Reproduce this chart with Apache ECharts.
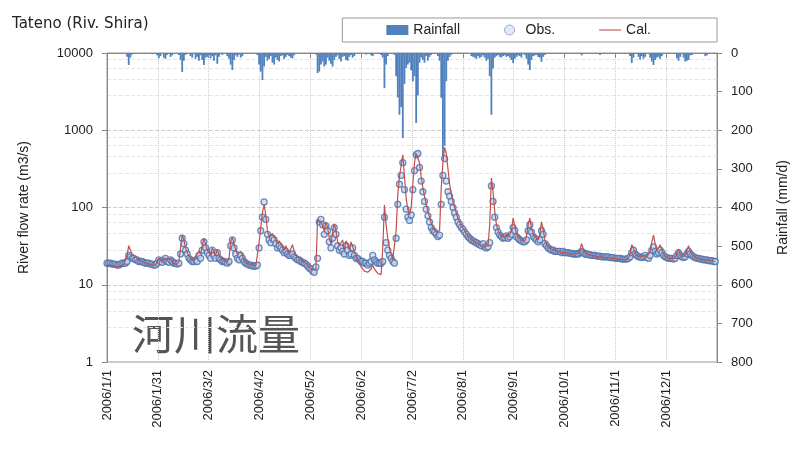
<!DOCTYPE html>
<html><head><meta charset="utf-8">
<script src="https://cdn.jsdelivr.net/npm/echarts@6/dist/echarts.min.js"></script>
<style>html,body{margin:0;padding:0;background:#fff}#c{width:794px;height:460px}</style>
</head><body><div id="c"></div>
<script>
// day index 0 = 2006/1/1
const xTickDays = 365 / 12;
const leftTicks = [1, 10, 100, 1000, 10000];
const rightTicks = [0, 100, 200, 300, 400, 500, 600, 700, 800];

const obs = [
19,19,19,18.5,18.5,18.5,18,18,18.5,19,
19,19,20,24,23,22,22,21,21,20,
20,20,19.5,19,19,19,18.5,18.5,18,18,
19,21,20,19.5,21,22,20,19.5,21,20,
19,19,18.5,19,25,40,34,28,25,22,
21,20,20,21,20,24,22,28,36,30,
26,24,22,28,24,22,26,22,21,20,
20,19.5,19,20,32,38,30,25,22,21,
24,22,20,19,18.5,18,18,17.5,17.5,17.5,
18,30,50,75,118,70,45,38,35,40,
38,34,30,32,30,28,26,27,25,24,
24,25,23,22,21,21,20,19.5,19,18.5,
17.5,16.5,16,15,14.5,17,22,65,70,60,
45,58,50,36,30,40,55,45,32,28,
30,27,25,32,28,24,25,30,24,22,
22,21,20,20,19,19,18,19,20,24,
21,20,19,19,19,20,75,35,28,24,
22,20,19,40,110,200,260,380,170,95,
75,68,80,170,300,480,500,330,220,160,
120,95,78,65,55,50,48,45,42,44,
110,260,430,220,160,140,120,100,85,75,
65,60,55,52,48,45,42,40,38,37,
36,35,34,33,32,34,31,30,31,35,
190,120,75,55,48,44,42,40,41,43,
40,42,45,55,50,42,40,38,37,36,
36,38,50,60,48,42,40,38,36,38,
50,45,34,32,30,29,28,28,27,27,
27,27,26,27,26,26,26,25.5,25.5,25,
25,25,25,26,27,26,25,25,24.5,24.5,
24,24,24,23.5,23.5,23.5,23,23,23,23,
23,22.5,22.5,22.5,22,22,22,22,21.5,21.5,
21.5,21.5,22,23,26,28,25,24,23,23,
22.5,23,24,22.5,22,24,28,31,27,25,
26,28,26,24,23,22.5,22,22,22,21.5,
22,24,26,24,23,22.5,23,25,27,25,
24,23,22.5,22,22,21.5,21.5,21,21,21,
20.5,20.5,20.5,20,20
];

const cal = [
18,18,18,17.5,17.5,17.5,17,17,17.5,18,
18,19,24,32,28,25,24,23,22,21,
20,20,19,19,18.5,18.5,18,18,18,18,
19,22,21,20,22,23,21,20,22,21,
18.5,19,18.5,20,30,44,38,30,26,24,
22,21,21,23,22,27,25,32,40,33,
28,26,24,30,27,24,29,24,22,21,
21,20,19.5,22,36,41,34,28,25,24,
27,24,21,19.5,19,18.5,18,18,17.5,17.5,
18,35,55,85,110,80,50,42,40,46,
42,38,34,37,34,30,28,32,28,26,
26,33,27,24,23,22,21,20,19.5,19,
18,17,16.5,15.5,15,16,70,72,65,58,
50,65,55,40,34,48,62,50,36,32,
35,38,28,37,33,28,36,35,27,24,
21,19,17,16,15,15,14.5,15,16,18,
16,15,14,13.5,13.5,30,108,60,40,30,
25,21,20,50,150,250,350,480,250,130,
95,80,100,200,380,500,520,380,250,180,
140,110,90,75,62,55,52,48,46,50,
180,380,600,500,320,200,150,120,100,85,
72,65,58,54,50,46,43,41,39,38,
36,35,34,33,32,33,31,30,32,60,
240,160,90,60,50,46,43,41,42,45,
42,45,50,73,58,46,42,40,38,37,
37,42,60,73,55,46,42,40,38,45,
65,52,38,33,31,30,29,28,28,27,
27,26.5,26,26.5,26,26,25.5,25.5,25,25,
25,25,25.5,28,34,29,26,25,24.5,24,
24,24,23.5,23.5,23,23,23,23,22.5,22.5,
22.5,22.5,22,22,22,21.5,21.5,21.5,21,21,
21,21,22,25,33,30,26,24,23,23,
22.5,24,25,23,22,27,36,44,34,28,
30,33,28,25,23,22.5,22,22,22,21.5,
22,26,29,25,23,22.5,24,28,32,27,
25,23.5,22.5,22,22,21.5,21.5,21,21,21,
20.5,20.5,20,20,20
];

const rain = [
0,0,0,0,0,0,0,0,0,0,
0,0,10,31,12,4,0,0,0,0,
0,0,0,0,0,0,0,3,0,0,
6,14,8,0,12,15,5,0,10,6,
0,0,0,5,18,49,20,5,0,0,
8,12,0,15,10,20,6,18,31,12,
10,5,14,8,20,6,28,10,0,5,
0,0,8,15,30,44,18,6,10,4,
12,8,0,0,0,0,0,0,0,0,
5,30,48,70,35,10,20,15,8,25,
30,12,18,22,8,6,15,10,5,8,
12,14,6,0,0,0,0,0,0,0,
0,0,0,0,0,4,52,48,30,22,
35,30,12,20,28,35,18,10,6,15,
22,10,8,18,20,10,5,12,8,0,
0,0,0,0,0,4,0,0,6,8,
0,0,0,0,5,12,91,30,8,0,
0,0,5,60,115,160,140,220,80,39,
30,25,45,73,60,181,110,25,12,18,
25,8,20,10,5,0,0,0,8,20,
116,275,240,73,20,10,5,0,0,0,
0,0,0,0,0,0,0,0,8,10,
12,15,8,13,10,6,12,20,15,60,
160,40,12,8,5,10,12,8,6,10,
8,12,18,26,15,10,6,8,12,0,
5,15,30,44,18,8,6,5,10,12,
23,10,5,0,0,0,0,0,0,0,
0,0,0,0,0,0,0,0,0,0,
0,0,0,0,6,0,0,0,0,0,
0,0,0,0,0,5,0,0,0,0,
0,0,0,0,0,0,0,0,0,0,
0,0,0,8,26,12,0,0,10,17,
8,15,10,0,0,12,22,31,18,12,
10,15,8,0,0,0,0,0,0,0,
0,14,20,10,0,12,22,20,18,6,
5,0,0,0,0,0,0,0,8,6,
0,0,0,0,0
];

const FONT = '"Liberation Sans", "DejaVu Sans", sans-serif';
const chart = echarts.init(document.getElementById('c'), null, {renderer: 'canvas'});
function dayLabel(v) {
  if (v > 360) return '';
  const d = new Date(2006, 0, 1 + Math.floor(v + 1e-6));
  return d.getFullYear() + '/' + (d.getMonth() + 1) + '/' + d.getDate();
}
chart.setOption({
  animation: false,
  backgroundColor: '#fff',
  textStyle: {fontFamily: FONT},
  title: {
    text: 'Tateno (Riv. Shira)', left: 7, top: 12,
    textStyle: {fontSize: 15, fontWeight: 'normal', color: '#222', fontFamily: '"DejaVu Sans", sans-serif'}
  },
  graphic: [{
    type: 'text', left: 132, top: 313,
    style: {text: '河川流量', fontSize: 42, fill: '#555', fontFamily: '"Noto Sans CJK JP", sans-serif'}
  }],
  legend: {
    right: 77, top: 18,
    padding: [5, 66, 5, 44],
    itemGap: 44,
    itemWidth: 22, itemHeight: 10,
    borderColor: '#999', borderWidth: 1,
    textStyle: {fontSize: 14, color: '#222', fontFamily: FONT},
    data: [
      {name: 'Rainfall', icon: 'rect'},
      {name: 'Obs.', icon: 'circle', itemStyle: {color: '#dbe5f1', borderColor: '#7f9cc8', borderWidth: 1}},
      {name: 'Cal.', icon: 'path://M0,0L24,0L24,1.2L0,1.2Z', itemStyle: {color: '#c0504d'}}
    ]
  },
  grid: {left: 107, right: 77, top: 53, bottom: 98, outerBoundsMode: 'none', containLabel: false,
         show: true, borderColor: '#999', borderWidth: 1, backgroundColor: 'transparent'},
  xAxis: {
    type: 'value', min: 0, max: 365, interval: xTickDays,
    axisLine: {show: true, lineStyle: {color: '#888'}},
    axisTick: {show: true, length: 5, lineStyle: {color: '#888'}},
    axisLabel: {rotate: 90, fontSize: 13, color: '#222', margin: 8, formatter: dayLabel, showMaxLabel: false},
    splitLine: {show: true, lineStyle: {color: '#ccc', type: 'dotted'}}
  },
  yAxis: [{
    type: 'log', logBase: 10, min: 1, max: 10000,
    name: 'River flow rate (m3/s)', nameLocation: 'middle', nameGap: 76,
    nameTextStyle: {fontSize: 14, color: '#222'},
    axisLine: {show: true, lineStyle: {color: '#888'}},
    axisTick: {show: true, length: 5, lineStyle: {color: '#888'}},
    axisLabel: {fontSize: 13, color: '#222', margin: 14, formatter: v => leftTicks.indexOf(Math.round(v)) >= 0 ? String(Math.round(v)) : ''},
    splitLine: {show: true, lineStyle: {color: '#ccc', type: 'dashed'}},
    minorTick: {show: false, splitNumber: 5},
    minorSplitLine: {show: true, lineStyle: {color: '#e6e6e6', type: 'dashed'}}
  }, {
    type: 'value', inverse: true, min: 0, max: 800, interval: 100,
    name: 'Rainfall (mm/d)', nameLocation: 'middle', nameGap: 73, nameRotate: 90,
    nameTextStyle: {fontSize: 14, color: '#222', verticalAlign: 'bottom'},
    axisLine: {show: true, lineStyle: {color: '#888'}},
    axisTick: {show: true, length: 5, lineStyle: {color: '#888'}},
    axisLabel: {fontSize: 13, color: '#222', margin: 14, formatter: v => rightTicks.indexOf(v) >= 0 ? String(v) : ''},
    splitLine: {show: false}
  }],
  series: [{
    name: 'Rainfall', type: 'bar', yAxisIndex: 1, barWidth: 1.8,
    itemStyle: {color: '#4f81bd'},
    data: rain.map((v, i) => [i, v])
  }, {
    name: 'Obs.', type: 'scatter', yAxisIndex: 0, symbol: 'circle', symbolSize: 6,
    itemStyle: {color: '#c9d8ee', borderColor: '#4a70ad', borderWidth: 1.3},
    data: obs.map((v, i) => [i, v])
  }, {
    name: 'Cal.', type: 'line', yAxisIndex: 0, symbol: 'none',
    lineStyle: {color: '#c0504d', width: 1.2},
    itemStyle: {color: '#c0504d'},
    data: cal.map((v, i) => [i, v])
  }]
});
</script></body></html>
